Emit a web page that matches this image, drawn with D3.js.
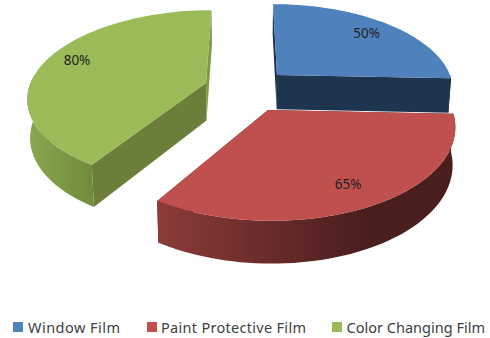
<!DOCTYPE html>
<html>
<head>
<meta charset="utf-8">
<script src="https://cdn.jsdelivr.net/npm/d3@7"></script>
<style>
html,body{margin:0;padding:0;background:#fff}
svg{display:block}
text{font-family:"Noto Sans","Open Sans",sans-serif}
</style>
</head>
<body>
<svg id="chart" width="490" height="338"></svg>
<script>
const categories = ["Window Film", "Paint Protective Film", "Color Changing Film"];
const values = [50, 65, 80];
const valueLabels = ["50%", "65%", "80%"];
const topColors = ["#4f81bd", "#c0504d", "#9bbb59"];
const cutColors = ["#1f344e", "#4a1e1d", "#6b7f3a"];
const sideCutColors = ["#1f344e", "#4a1e1d", "#7f9a45"];
const wallStops = [
  ["#1f344e", "#1f344e"],
  ["#8c3b3a", "#4a1e1d"],
  ["#8aa84f", "#6f8a3d"]
];

// Layout: perspective camera for the tilted pie, and where each exploded slice's tip lands.
const cam = {vx: 247, vy: 100, A: 181, B: 89.5, p: 0.16, q: 0.013};
const depths = [36, 37, 39];
const tips = [[277, 75], [268, 110], [206, 83]];
const labelNudge = [0, 0, -4];
const drawOrder = [0, 2, 1];
const legendX = [13, 147, 332];
const legendTextX = [28, 161, 346.5];
const legendTextWidth = [92, 145, 138.5];

const svg = d3.select("#chart");
const defs = svg.append("defs");

const arcs = d3.pie().sort(null).value(d => d).startAngle(0).endAngle(2 * Math.PI)(values);
const color = d3.scaleOrdinal().domain(categories).range(topColors);

function worldOf(tip) {
  const s = tip[1] - cam.vy;
  const Y = s / (cam.B + cam.p * s);
  const k = 1 / (1 - cam.p * Y);
  return [(tip[0] - cam.vx) / (cam.A * k), Y];
}
function project(X, Y, depth) {
  const k = 1 / (1 - cam.p * Y) * (depth ? 1 - cam.q : 1);
  return [cam.vx + cam.A * X * k, cam.vy + (cam.B * Y + depth) * k];
}
function rimPoint(i, t, r, low) {
  const w = worldOf(tips[i]);
  return project(w[0] + r * Math.sin(t), w[1] - r * Math.cos(t), low ? depths[i] : 0);
}
const sampled = (a, b) => d3.range(0, 61).map(j => a + (b - a) * j / 60);
const line = d3.line();
const closed = pts => line(pts) + "Z";

drawOrder.forEach(i => {
  const a = arcs[i];
  const g = svg.append("g");
  const tipTop = rimPoint(i, 0, 0, false);
  const tipLow = rimPoint(i, 0, 0, true);

  // cut faces
  [[a.startAngle, cutColors[i]], [a.endAngle, sideCutColors[i]]].forEach(([t, c]) => {
    g.append("path")
      .attr("d", closed([tipTop, rimPoint(i, t, 1, false), rimPoint(i, t, 1, true), tipLow]))
      .attr("fill", c);
  });

  // outer wall, only the part that faces the viewer
  const from = Math.max(a.startAngle, Math.PI / 2);
  const to = Math.min(a.endAngle, Math.PI * 1.53);
  if (to > from) {
    const ts = sampled(from, to);
    const upper = ts.map(t => rimPoint(i, t, 1, false));
    const lower = ts.map(t => rimPoint(i, t, 1, true)).reverse();
    const all = upper.concat(lower);
    const xs = d3.extent(all, p => p[0]);
    const id = "wall" + i;
    const gr = defs.append("linearGradient").attr("id", id)
      .attr("gradientUnits", "userSpaceOnUse")
      .attr("x1", xs[0]).attr("x2", xs[1]).attr("y1", 0).attr("y2", 0);
    gr.append("stop").attr("offset", 0).attr("stop-color", wallStops[i][0]);
    gr.append("stop").attr("offset", i === 1 ? 0.7 : 1).attr("stop-color", wallStops[i][1]);
    g.append("path").attr("d", closed(all)).attr("fill", "url(#" + id + ")");
  }

  // top face
  const rim = sampled(a.startAngle, a.endAngle).map(t => rimPoint(i, t, 1, false));
  g.append("path").attr("d", closed([tipTop].concat(rim))).attr("fill", color(categories[i]));
});

// value labels
arcs.forEach((a, i) => {
  const mid = (a.startAngle + a.endAngle) / 2;
  const p = rimPoint(i, mid, 0.8, false);
  svg.append("text")
    .attr("x", p[0]).attr("y", p[1] + labelNudge[i] + 4.5)
    .attr("text-anchor", "middle")
    .attr("font-size", 13.5)
    .attr("fill", "#222")
    .text(valueLabels[i]);
});

// legend
categories.forEach((c, i) => {
  svg.append("rect").attr("x", legendX[i]).attr("y", 322).attr("width", 10).attr("height", 10)
    .attr("fill", color(c));
  svg.append("text").attr("x", legendTextX[i]).attr("y", 332.5)
    .attr("font-size", 14.5).attr("fill", "#404040")
    .attr("textLength", legendTextWidth[i]).attr("lengthAdjust", "spacing")
    .text(c);
});
</script>
</body>
</html>
